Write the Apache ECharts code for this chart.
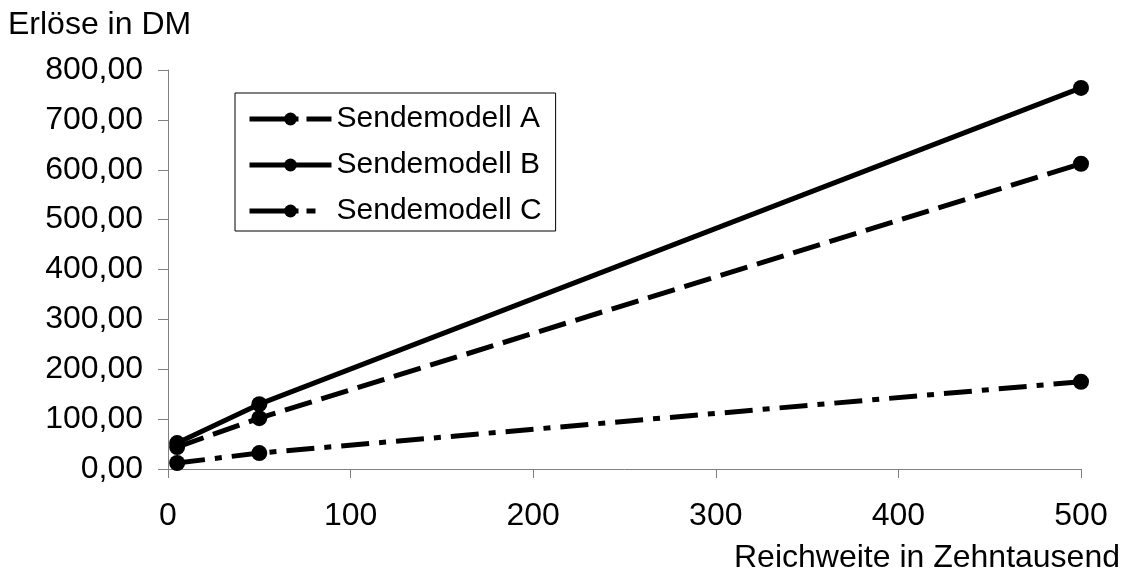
<!DOCTYPE html>
<html>
<head>
<meta charset="utf-8">
<script src="https://cdn.jsdelivr.net/npm/echarts@6/dist/echarts.min.js"></script>
<style>html,body{margin:0;padding:0;background:#fff}#c{width:1123px;height:577px}</style>
</head>
<body>
<div id="c"></div>
<script>
const reach = [5, 50, 500];
const modelA = [44, 102, 612];
const modelB = [52, 130, 764];
const modelC = [12, 32, 175];
const seriesNames = ['Sendemodell A', 'Sendemodell B', 'Sendemodell C'];
const xTicks = [0, 100, 200, 300, 400, 500];

const chart = echarts.init(document.getElementById('c'));
const font = 'Liberation Sans, Arial, sans-serif';
function pairs(vals){ return reach.map((x,i)=>[x, vals[i]]); }
const lineTypes = [[28,10], 'solid', [28,10,7,10]];
const legendTypes = [[49,8,40], 'solid', [49,8,9,40]];
const allVals = [modelA, modelB, modelC];
chart.setOption({
  animation:false,
  backgroundColor:'#fff',
  grid:{left:168, right:42, top:70, bottom:108},
  legend:{
    orient:'vertical', left:235, top:93,
    padding:[11,14,5,12],
    borderColor:'#000', borderWidth:1,
    itemWidth:82, itemHeight:16, itemGap:16,
    textStyle:{fontFamily:font, fontSize:30, color:'#000'},
    data:seriesNames.map((n,i)=>({name:n, lineStyle:{width:5, type:legendTypes[i], color:'#000'}}))
  },
  xAxis:{
    type:'value', min:0, max:500, interval:100,
    name:'Reichweite in Zehntausend', nameLocation:'end',
    nameTextStyle:{fontFamily:font, fontSize:32, color:'#000', align:'right', verticalAlign:'top', padding:[73,0,0,0]},
    nameGap:39,
    axisLine:{lineStyle:{color:'#808080', width:1}},
    axisTick:{show:true, length:9, lineStyle:{color:'#808080'}},
    axisLabel:{fontFamily:font, fontSize:32, color:'#000', margin:31, formatter:v=>xTicks.includes(v)?String(v):''},
    splitLine:{show:false}
  },
  yAxis:{
    type:'value', min:0, max:800, interval:100,
    name:'Erlöse in DM', nameLocation:'end',
    nameTextStyle:{fontFamily:font, fontSize:32, color:'#000', align:'left', padding:[0,0,0,-160]},
    nameGap:29,
    axisLine:{show:true, lineStyle:{color:'#808080', width:1}},
    axisTick:{show:true, length:10, lineStyle:{color:'#808080'}},
    axisLabel:{fontFamily:font, fontSize:32, color:'#000', margin:25, formatter:v=>v.toFixed(2).replace('.',',')},
    splitLine:{show:false}
  },
  series: seriesNames.map((n,i)=>({
    name:n, type:'line', data:pairs(allVals[i]),
    symbol:'circle', symbolSize:16,
    itemStyle:{color:'#000'},
    lineStyle:{color:'#000', width:5, type:lineTypes[i]},
    z: 3-i
  }))
});
</script>
</body>
</html>
